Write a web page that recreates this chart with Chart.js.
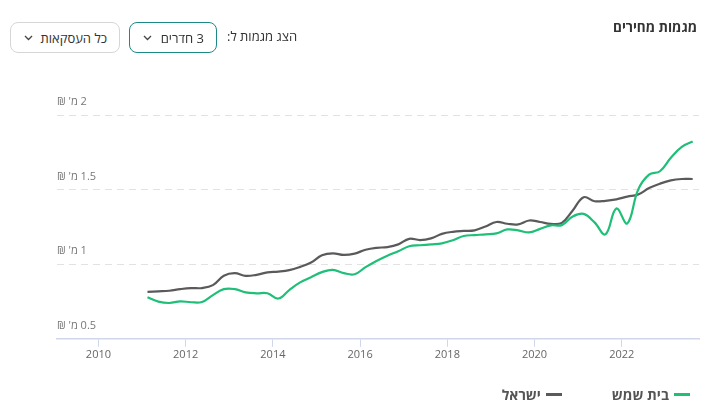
<!DOCTYPE html>
<html lang="he">
<head>
<meta charset="utf-8">
<script src="https://cdn.jsdelivr.net/npm/chart.js@4"></script>
<style>
  html, body { margin: 0; padding: 0; background: #fff; }
  body { width: 722px; height: 414px; position: relative; overflow: hidden; font-family: 'Open Sans', 'Noto Sans', sans-serif; color: #333; }
  #wrap { position: absolute; left: 0; top: 0; width: 722px; height: 414px; }
  .title { position: absolute; right: 25px; top: 18px; font-size: 13.5px; font-weight: 700; direction: rtl; }
  .lbl { position: absolute; left: 227px; top: 27px; font-size: 13px; direction: rtl; white-space: nowrap; }
  .box { position: absolute; top: 22px; height: 31px; box-sizing: border-box; border-radius: 8px; display: flex; direction: rtl; align-items: center; justify-content: space-between; padding: 0 12px 0 13px; font-size: 13px; background: #fff; }
  #rooms { left: 129px; width: 88px; border: 1.5px solid #1b8a86; }
  #deals { left: 10px; width: 110px; border: 1px solid #d6d6d6; }
  #legend { position: absolute; right: 32px; top: 385px; display: flex; direction: rtl; gap: 50px; font-size: 14px; font-weight: 700; color: #555; }
  #legend span.item { display: flex; align-items: center; gap: 5px; }
  #legend i { display: inline-block; width: 16px; height: 2.5px; }
</style>
</head>
<body>
<div id="wrap"><canvas id="c" dir="rtl"></canvas></div>
<div class="title">מגמות מחירים</div>
<div class="lbl">הצג מגמות ל:</div>
<div class="box" id="rooms"><span>3 חדרים</span><svg width="9" height="6" viewBox="0 0 9 6"><polyline points="1,1 4.5,4.5 8,1" fill="none" stroke="#444" stroke-width="1.3"/></svg></div>
<div class="box" id="deals"><span>כל העסקאות</span><svg width="9" height="6" viewBox="0 0 9 6"><polyline points="1,1 4.5,4.5 8,1" fill="none" stroke="#444" stroke-width="1.3"/></svg></div>
<div id="legend"></div>
<script>
// ---- data (quarterly, millions of NIS) ----
const quarters = [
  2011.125, 2011.375, 2011.625, 2011.875, 2012.125, 2012.375, 2012.625, 2012.875,
  2013.125, 2013.375, 2013.625, 2013.875, 2014.125, 2014.375, 2014.625, 2014.875,
  2015.125, 2015.375, 2015.625, 2015.875, 2016.125, 2016.375, 2016.625, 2016.875,
  2017.125, 2017.375, 2017.625, 2017.875, 2018.125, 2018.375, 2018.625, 2018.875,
  2019.125, 2019.375, 2019.625, 2019.875, 2020.125, 2020.375, 2020.625, 2020.875,
  2021.125, 2021.375, 2021.625, 2021.875, 2022.125, 2022.375, 2022.625, 2022.875,
  2023.125, 2023.375, 2023.625
];
const beitShemesh = [
  0.778, 0.749, 0.740, 0.751, 0.745, 0.747, 0.793, 0.833,
  0.833, 0.811, 0.805, 0.805, 0.770, 0.827, 0.878, 0.913,
  0.947, 0.962, 0.940, 0.933, 0.980, 1.022, 1.057, 1.087,
  1.120, 1.127, 1.133, 1.140, 1.160, 1.189, 1.195, 1.200,
  1.207, 1.233, 1.227, 1.213, 1.237, 1.260, 1.262, 1.320,
  1.337, 1.280, 1.200, 1.373, 1.273, 1.500, 1.600, 1.623,
  1.713, 1.787, 1.822
];
const israel = [
  0.815, 0.818, 0.822, 0.833, 0.840, 0.840, 0.860, 0.923,
  0.940, 0.922, 0.929, 0.945, 0.950, 0.960, 0.982, 1.011,
  1.060, 1.073, 1.062, 1.071, 1.097, 1.110, 1.115, 1.133,
  1.170, 1.162, 1.173, 1.203, 1.217, 1.223, 1.227, 1.253,
  1.283, 1.271, 1.267, 1.293, 1.283, 1.270, 1.277, 1.360,
  1.449, 1.422, 1.425, 1.435, 1.453, 1.467, 1.510, 1.540,
  1.562, 1.571, 1.571
];
const xTicks = [2010, 2012, 2014, 2016, 2018, 2020, 2022];
const yTicks = [0.5, 1, 1.5, 2];
const seriesNames = ['בית שמש', 'ישראל'];
const seriesColors = ['#1fbf78', '#5a5a5a'];

const FONT = "'Open Sans', 'Noto Sans', sans-serif";
Chart.defaults.font.family = FONT;
Chart.defaults.color = '#666';

function pts(vals) { return quarters.map((q, i) => ({ x: q, y: vals[i] })); }

const ctx = document.getElementById('c').getContext('2d');
const chart = new Chart(ctx, {
  type: 'line',
  data: {
    datasets: [
      { label: seriesNames[0], data: pts(beitShemesh), borderColor: seriesColors[0], borderWidth: 2.2, tension: 0.4, pointRadius: 0 },
      { label: seriesNames[1], data: pts(israel), borderColor: seriesColors[1], borderWidth: 2.2, tension: 0.4, pointRadius: 0 },
    ]
  },
  options: {
    responsive: true, maintainAspectRatio: false, animation: false,
    layout: { padding: { left: 57, right: 23, top: 115, bottom: 52 } },
    plugins: { legend: { display: false }, tooltip: { enabled: false } },
    scales: {
      x: {
        type: 'linear', min: 2009.05, max: 2023.77,
        afterBuildTicks: s => { s.ticks = xTicks.map(v => ({ value: v })); },
        grid: { drawOnChartArea: false, drawTicks: true, tickLength: 8, color: '#d0d7ea' },
        border: { color: '#d0d7ea', width: 1.5 },
        ticks: { color: '#666', font: { size: 11 }, padding: 1, callback: v => String(v) }
      },
      y: {
        min: 0.5, max: 2,
        afterBuildTicks: s => { s.ticks = yTicks.map(v => ({ value: v })); },
        afterFit: s => { s.width = 0; },
        grid: { drawTicks: false, color: c => (c.tick && c.tick.value === 0.5) ? 'rgba(0,0,0,0)' : '#e2e2e2', lineWidth: 1 },
        border: { display: false, dash: [7, 5] },
        ticks: { mirror: true, padding: 0, labelOffset: -13, color: '#777', font: { size: 11 }, callback: v => v + " מ' ₪" }
      }
    }
  }
});

// html legend built from series names/colours
const lg = document.getElementById('legend');
seriesNames.forEach((n, i) => {
  const it = document.createElement('span');
  it.className = 'item';
  it.innerHTML = '<i style="background:' + seriesColors[i] + '"></i><span>' + n + '</span>';
  lg.appendChild(it);
});
</script>
</body>
</html>
